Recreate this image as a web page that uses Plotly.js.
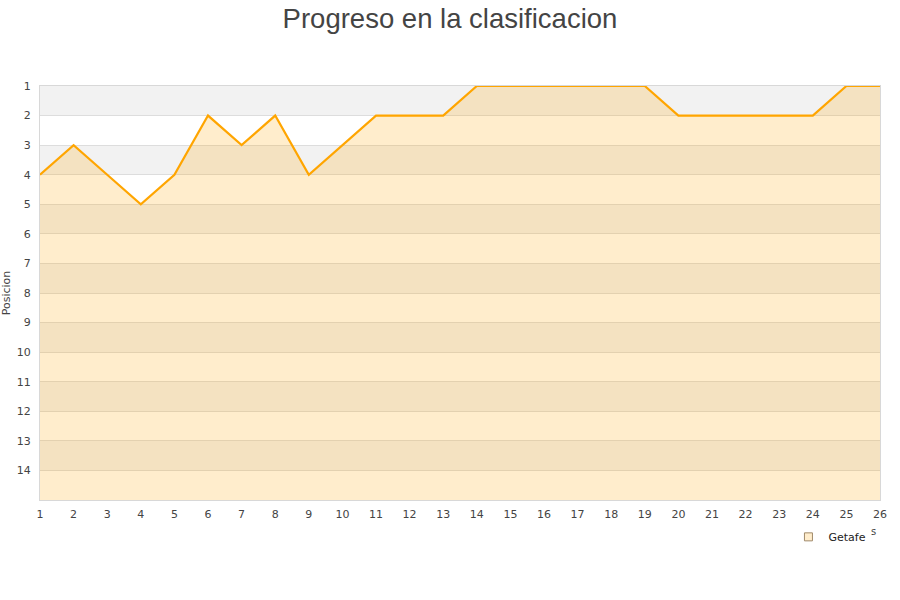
<!DOCTYPE html>
<html>
<head>
<meta charset="utf-8">
<script src="https://cdn.plot.ly/plotly-3.0.1.min.js"></script>
<style>html,body{margin:0;padding:0;background:#fff}#chart{width:900px;height:600px}</style>
</head>
<body>
<div id="chart"></div>
<script>
const jornadas = [1,2,3,4,5,6,7,8,9,10,11,12,13,14,15,16,17,18,19,20,21,22,23,24,25,26];
const posiciones = [4,3,4,5,4,2,3,2,4,3,2,2,2,1,1,1,1,1,1,2,2,2,2,2,1,1];
const equipo = "Getafe";
const yTicks = [1,2,3,4,5,6,7,8,9,10,11,12,13,14];
const ultimaPosicion = 15;

const baseline = jornadas.map(() => ultimaPosicion);

const shapes = [];
for (let p = 1; p < ultimaPosicion; p++) {
  shapes.push({
    type: 'rect', xref: 'paper', yref: 'y', x0: 0, x1: 1, y0: p, y1: p + 1,
    fillcolor: (p % 2 === 1) ? '#f2f2f2' : '#ffffff', line: {width: 0}, layer: 'below'
  });
}

const traces = [
  {x: jornadas, y: baseline, mode: 'lines', line: {width: 0, color: 'rgba(0,0,0,0)'},
   showlegend: false, hoverinfo: 'skip'},
  {x: jornadas, y: posiciones, mode: 'lines', fill: 'tonexty',
   fillcolor: 'rgba(255,165,0,0.2)', line: {color: '#ffa500', width: 2.2},
   name: equipo, showlegend: false, cliponaxis: false},
  {x: [null], y: [null], mode: 'markers', name: equipo,
   marker: {symbol: 'square', size: 8, color: '#ffedcc', line: {color: '#a08a6a', width: 1}}}
];

const layout = {
  width: 900, height: 600,
  margin: {l: 40, r: 20, t: 86, b: 100},
  paper_bgcolor: '#ffffff', plot_bgcolor: '#ffffff',
  title: {text: 'Progreso en la clasificacion', x: 0.5, xanchor: 'center', yref: 'container', y: 0.985, yanchor: 'top',
          font: {family: 'Liberation Sans, Arial, sans-serif', size: 27.5, color: '#444'}},
  font: {family: 'DejaVu Sans, Verdana, sans-serif', size: 11, color: '#444'},
  xaxis: {range: [1, 26], tickvals: jornadas, ticktext: jornadas.map(String),
          showgrid: false, zeroline: false, showline: true, linecolor: '#d8d8d8', linewidth: 1,
          mirror: true, ticks: '', ticklen: 0, ticklabelstandoff: 4,
          tickfont: {size: 11, color: '#444'}},
  yaxis: {range: [ultimaPosicion, 1], tickvals: yTicks, ticktext: yTicks.map(String),
          showgrid: true, gridcolor: '#dddddd', gridwidth: 1, zeroline: false,
          showline: true, linecolor: '#d8d8d8', linewidth: 1, mirror: true, ticks: '',
          ticklabelstandoff: 6,
          tickfont: {size: 11, color: '#444'},
          title: {text: 'Posicion', font: {size: 11, color: '#444'}, standoff: 6}},
  shapes: shapes,
  showlegend: true,
  legend: {x: 0.891, xanchor: 'left', y: -0.089, yref: 'paper', yanchor: 'middle', orientation: 'h',
           font: {size: 11, color: '#222'}, bgcolor: 'rgba(0,0,0,0)', itemwidth: 30},
  annotations: [{text: 's', xref: 'paper', yref: 'paper', x: 0.998, y: -0.075, yanchor: 'middle',
                 showarrow: false, font: {size: 10, color: '#444'}}]
};

Plotly.newPlot('chart', traces, layout, {displayModeBar: false, staticPlot: true});
</script>
</body>
</html>
